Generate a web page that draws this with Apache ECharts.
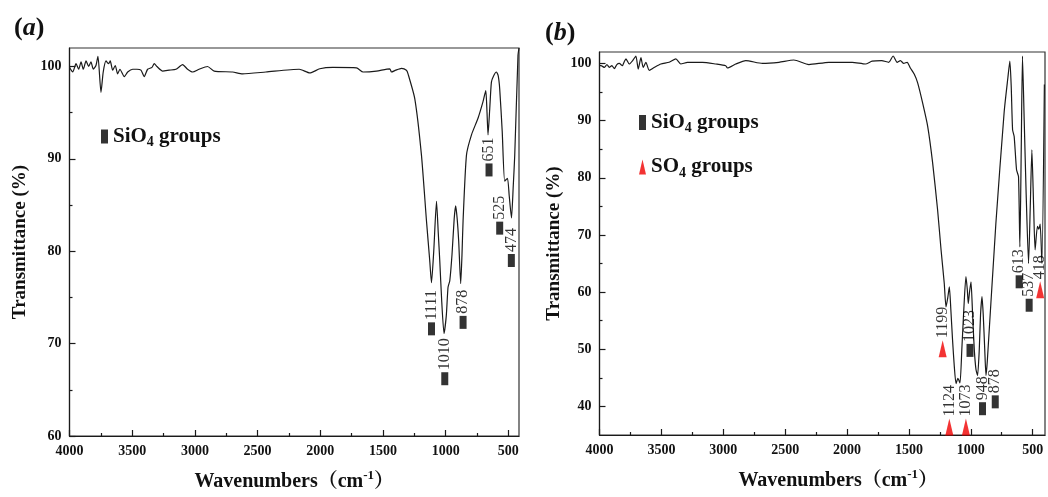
<!DOCTYPE html>
<html>
<head>
<meta charset="utf-8">
<script src="https://cdn.jsdelivr.net/npm/echarts@6/dist/echarts.min.js"></script>
<style>
  html, body { margin: 0; padding: 0; background: #fff; }
  #main { width: 1048px; height: 497px; }
</style>
</head>
<body>
<div id="main"></div>
<script>
// ---- panel (a) spectrum: wavenumber (cm-1) / transmittance (%)
const waveA = [4000, 3974, 3948, 3927, 3908, 3890, 3868, 3847, 3829, 3810, 3789, 3773, 3749, 3731, 3709, 3688, 3675, 3656, 3635, 3616,
  3598, 3563, 3536, 3496, 3462, 3430, 3404, 3377, 3342, 3324, 3303, 3257, 3205, 3151, 3098, 3058, 3018, 2966, 2899, 2846,
  2699, 2620, 2434, 2168, 2083, 2004, 1900, 1711, 1658, 1552, 1446, 1432, 1398, 1352, 1313, 1300, 1246, 1193, 1153, 1127,
  1113, 1095, 1073, 1059, 1047, 1031, 1013, 995, 981, 967, 949, 932, 920, 908, 896, 880, 870, 861, 834, 794,
  742, 702, 680, 670, 662, 648, 635, 617, 595, 581, 569, 549, 529, 507, 493, 475, 461, 449, 423, 415];
const transA = [99.9, 99.4, 100.3, 99.7, 100.5, 99.7, 100.6, 100.0, 100.5, 99.7, 100.1, 101.1, 97.2, 99.4, 100.6, 100.3, 100.6, 99.6, 100.1, 99.2,
  99.7, 98.9, 99.4, 99.7, 99.7, 99.6, 98.9, 99.7, 99.9, 100.3, 100.0, 99.5, 99.6, 99.7, 100.2, 99.7, 99.4, 99.7, 100.0, 99.5,
  99.4, 99.2, 99.4, 99.7, 99.3, 99.75, 99.9, 99.85, 99.4, 99.5, 99.75, 99.4, 99.6, 99.8, 99.6, 99.2, 96.5, 90.4, 83.3, 79.0,
  76.6, 80, 85.4, 82, 79.0, 74.5, 71.1, 73, 76.1, 76.8, 79.7, 83.5, 84.9, 83.5, 81.1, 76.5, 79.5, 83.3, 90.4, 92.6,
  94.4, 96.2, 97.4, 95, 92.6, 95.5, 98.3, 99.0, 99.4, 99.0, 97.6, 93, 87.6, 87.9, 86, 83.6, 87, 90.4, 101.2, 102];

// panel (a) SiO4 band markers
const sio4WaveA = [1113, 1007, 861, 654, 569, 476];
const sio4TransA = [71.6, 66.2, 72.3, 88.8, 82.5, 79.0];
const sio4LabelA = ['1111', '1010', '878', '651', '525', '474'];

// ---- panel (b) spectrum
const waveB = [4000, 3988, 3960, 3940, 3921, 3900, 3880, 3860, 3840, 3815, 3800, 3786, 3760, 3732, 3706, 3687, 3665, 3647, 3625, 3598,
  3558, 3504, 3437, 3383, 3343, 3289, 3168, 3060, 2980, 2966, 2899, 2818, 2684, 2550, 2429, 2308, 2147, 1958, 1851, 1797,
  1720, 1663, 1627, 1595, 1568, 1542, 1514, 1488, 1456, 1429, 1389, 1348, 1308, 1268, 1240, 1214, 1200, 1186, 1173, 1161,
  1147, 1133, 1119, 1104, 1087, 1072, 1056, 1039, 1028, 1020, 1010, 998, 985, 971, 958, 945, 931, 921, 909, 899,
  887, 877, 866, 797, 730, 700, 684, 673, 662, 649, 630, 614, 603, 592, 582, 568, 552, 533, 519, 506,
  492, 480, 461, 450, 439, 425, 405];
const transB = [99.6, 99.6, 99.3, 99.8, 99.3, 99.6, 99.1, 99.8, 100.0, 99.6, 100.3, 100.8, 99.9, 100.5, 101.3, 99.0, 101.0, 99.3, 100.2, 98.8,
  99.3, 99.9, 100.2, 100.8, 99.9, 100.2, 100.2, 99.9, 99.6, 99.2, 99.9, 100.5, 100.0, 100.2, 100.6, 99.8, 100.2, 100.2, 99.9, 100.4,
  100.5, 100.2, 101.3, 100.2, 100.5, 100.0, 100.2, 99.2, 98.1, 96.6, 93.1, 89.0, 82.6, 74.4, 67.4, 61.5, 57.4, 59.0, 60.9, 57,
  51.6, 47, 44.0, 44.9, 44.1, 50, 57, 62.7, 60.5, 58.0, 60, 61.8, 56, 49.8, 46.5, 45.4, 50, 56, 59.2, 56,
  50, 45.4, 48, 72, 91.5, 97.5, 100.4, 96, 88.4, 87.2, 81.4, 80.2, 67.9, 85, 101.3, 90, 77, 65.0, 75, 84.9,
  75, 67.4, 71.5, 71.0, 71.9, 65.0, 96.3];

// panel (b) SiO4 band markers
const sio4WaveB = [1006, 905, 802, 609, 528];
const sio4TransB = [49.8, 39.6, 40.8, 61.8, 57.7];
const sio4LabelB = ['1023', '948', '878', '613', '537'];

// panel (b) SO4 band markers
const so4WaveB = [1227, 1173, 1039, 439];
const so4TransB = [50.1, 36.4, 36.4, 60.4];
const so4LabelB = ['1199', '1124', '1073', '418'];

// axis ticks
const xTicks = [500, 1000, 1500, 2000, 2500, 3000, 3500, 4000];
const xMinorTicks = [750, 1250, 1750, 2250, 2750, 3250, 3750];
const yTicksA = [60, 70, 80, 90, 100];
const yMinorA = [65, 75, 85, 95];
const yTicksB = [40, 50, 60, 70, 80, 90, 100];
const yMinorB = [45, 55, 65, 75, 85, 95];

const SERIF = "'Liberation Serif', 'Times New Roman', 'Noto Serif CJK SC', 'Noto Sans CJK SC', serif";
const INK = '#1a1a1a';
const RED = '#f00000';

const pairs = (xs, ys) => xs.map((x, i) => [x, ys[i]]);

function xAxes(gridIndex, min, shiftName) {
  return [{
    type: 'value', gridIndex, min, max: 4000, inverse: true, position: 'bottom',
    axisLine: { show: true, onZero: false, lineStyle: { color: INK, width: 1.2 } },
    axisTick: { show: true, inside: true, length: 6, customValues: xTicks, lineStyle: { color: INK, width: 1.2 } },
    axisLabel: {
      customValues: xTicks, formatter: v => String(v), margin: 8,
      fontFamily: SERIF, fontSize: 14, fontWeight: 'bold', color: '#111'
    },
    splitLine: { show: false },
    name: '{t|Wavenumbers（cm}{sup|-1}{t|）}',
    nameLocation: 'middle', nameGap: 33,
    nameTextStyle: {
      padding: [0, 0, 0, shiftName],
      rich: {
        t: { fontFamily: SERIF, fontSize: 20, fontWeight: 'bold', color: '#111', lineHeight: 26 },
        sup: { fontFamily: SERIF, fontSize: 13, fontWeight: 'bold', color: '#111', lineHeight: 12, verticalAlign: 'top' }
      }
    }
  }, {
    type: 'value', gridIndex, min, max: 4000, inverse: true, position: 'bottom',
    axisLine: { show: false },
    axisTick: { show: true, inside: true, length: 3, customValues: xMinorTicks, lineStyle: { color: INK, width: 1.2 } },
    axisLabel: { show: false },
    splitLine: { show: false }
  }];
}

function yAxes(gridIndex, min, majors, minors, gap) {
  return [{
    type: 'value', gridIndex, min, max: 102, position: 'left',
    axisLine: { show: true, onZero: false, lineStyle: { color: INK, width: 1.2 } },
    axisTick: { show: true, inside: true, length: 6, customValues: majors, lineStyle: { color: INK, width: 1.2 } },
    axisLabel: {
      customValues: majors, formatter: v => String(v), margin: 8,
      fontFamily: SERIF, fontSize: 14, fontWeight: 'bold', color: '#111'
    },
    splitLine: { show: false },
    name: 'Transmittance (%)',
    nameLocation: 'middle', nameGap: gap,
    nameTextStyle: { fontFamily: SERIF, fontSize: 19, fontWeight: 'bold', color: '#111' }
  }, {
    type: 'value', gridIndex, min, max: 102, position: 'left',
    axisLine: { show: false },
    axisTick: { show: true, inside: true, length: 3, customValues: minors, lineStyle: { color: INK, width: 1.2 } },
    axisLabel: { show: false },
    splitLine: { show: false }
  }];
}

function markerLabel(labels) {
  return {
    show: true, position: 'top', distance: 2, rotate: 90,
    align: 'left', verticalAlign: 'middle',
    formatter: p => labels[p.dataIndex],
    fontFamily: SERIF, fontSize: 16, color: '#000'
  };
}

const legendRich = {
  t: { fontFamily: SERIF, fontSize: 21, fontWeight: 'bold', color: '#111', lineHeight: 26 },
  s: { fontFamily: SERIF, fontSize: 14, fontWeight: 'bold', color: '#111', lineHeight: 12, verticalAlign: 'bottom' }
};
const legendFormatter = name => name === 'SiO4 groups' ? '{t|SiO}{s|4}{t| groups}' : '{t|SO}{s|4}{t| groups}';

const titleRich = {
  p: { fontFamily: SERIF, fontSize: 26, fontWeight: 'bold', color: '#111' },
  i: { fontFamily: SERIF, fontSize: 26, fontWeight: 'bold', fontStyle: 'italic', color: '#111' }
};

const chart = echarts.init(document.getElementById('main'));

chart.setOption({
  backgroundColor: '#fff',
  animation: false,
  title: [
    { text: '{p|(}{i|a}{p|)}', left: 9, top: 10, textStyle: { rich: titleRich } },
    { text: '{p|(}{i|b}{p|)}', left: 540, top: 15, textStyle: { rich: titleRich } }
  ],
  legend: [
    {
      data: ['SiO4 groups'], left: 96, top: 121, orient: 'vertical',
      itemWidth: 7, itemHeight: 14, formatter: legendFormatter,
      textStyle: { rich: legendRich }, selectedMode: false
    },
    {
      data: ['SiO4 groups', 'SO4 groups'], left: 634, top: 107, orient: 'vertical', itemGap: 21,
      itemWidth: 7, itemHeight: 15, formatter: legendFormatter,
      textStyle: { rich: legendRich }, selectedMode: false
    }
  ],
  grid: [
    { left: 69.5, top: 48, width: 449.5, height: 390, show: true, borderColor: '#333', borderWidth: 1.2 },
    { left: 599.5, top: 52, width: 445.5, height: 383, show: true, borderColor: '#333', borderWidth: 1.2 }
  ],
  xAxis: [...xAxes(0, 415, 0), ...xAxes(1, 400, 32)],
  yAxis: [...yAxes(0, 60, yTicksA, yMinorA, 40), ...yAxes(1, 35, yTicksB, yMinorB, 36)],
  series: [
    {
      type: 'line', xAxisIndex: 0, yAxisIndex: 0, data: pairs(waveA, transA),
      showSymbol: false, smooth: 0.2, lineStyle: { color: INK, width: 1.2 }, z: 2
    },
    {
      name: 'SiO4 groups', type: 'scatter', xAxisIndex: 0, yAxisIndex: 0,
      data: pairs(sio4WaveA, sio4TransA), symbol: 'rect', symbolSize: [7, 13],
      itemStyle: { color: '#000' }, label: markerLabel(sio4LabelA), z: 3
    },
    {
      type: 'line', xAxisIndex: 2, yAxisIndex: 2, data: pairs(waveB, transB),
      showSymbol: false, smooth: 0.2, lineStyle: { color: INK, width: 1.2 }, z: 2
    },
    {
      name: 'SiO4 groups', type: 'scatter', xAxisIndex: 2, yAxisIndex: 2,
      data: pairs(sio4WaveB, sio4TransB), symbol: 'rect', symbolSize: [7, 13],
      itemStyle: { color: '#000' }, label: markerLabel(sio4LabelB), z: 3
    },
    {
      name: 'SO4 groups', type: 'scatter', xAxisIndex: 2, yAxisIndex: 2,
      data: pairs(so4WaveB, so4TransB), symbol: 'triangle', symbolSize: [8, 17],
      itemStyle: { color: RED }, label: markerLabel(so4LabelB), z: 3
    }
  ]
});

window.addEventListener('resize', () => chart.resize());
</script>
</body>
</html>
